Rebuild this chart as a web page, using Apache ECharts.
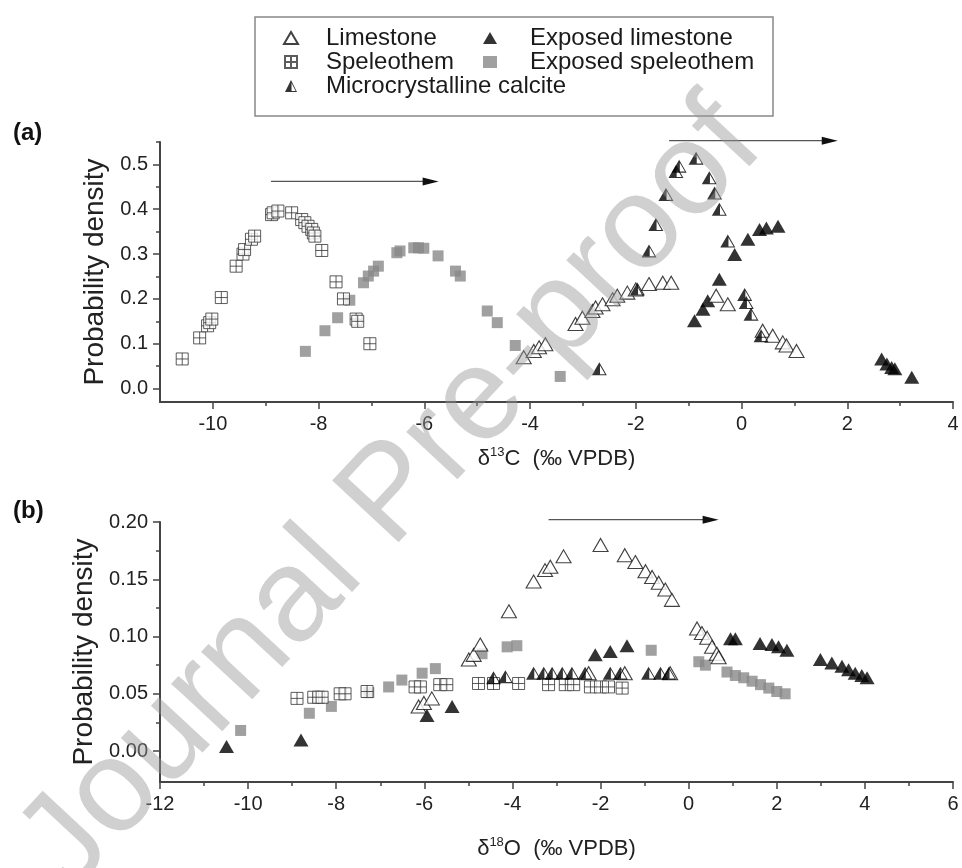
<!DOCTYPE html>
<html>
<head>
<meta charset="utf-8">
<script src="https://cdn.jsdelivr.net/npm/echarts@6/dist/echarts.min.js"></script>
<style>
  html, body { margin: 0; padding: 0; background: #fff; }
  #chart { width: 962px; height: 868px; }
</style>
</head>
<body>
<div id="chart"></div>
<script>
// ---- panel (a): d13C, [x, probability density]
const limestoneA = [[-4.12,0.07],[-3.93,0.084],[-3.83,0.092],[-3.71,0.099],[-3.14,0.144],[-3.01,0.158],[-2.82,0.173],[-2.76,0.181],[-2.63,0.188],[-2.44,0.199],[-2.35,0.207],[-2.16,0.214],[-2.0,0.221],[-1.75,0.233],[-1.49,0.236],[-1.33,0.236],[-0.48,0.207],[-0.26,0.188],[0.40,0.129],[0.59,0.118],[0.78,0.103],[0.85,0.096],[1.04,0.084]];
const exposedLimestoneA = [[-0.89,0.151],[-0.73,0.177],[-0.64,0.196],[-0.42,0.244],[-0.13,0.299],[0.12,0.333],[0.34,0.355],[0.47,0.358],[0.69,0.362],[2.65,0.066],[2.75,0.055],[2.84,0.047],[2.90,0.044],[3.22,0.025]];
const speleothemA = [[-10.58,0.066],[-10.25,0.113],[-10.10,0.14],[-10.06,0.147],[-10.02,0.155],[-9.84,0.203],[-9.56,0.273],[-9.43,0.30],[-9.40,0.31],[-9.27,0.333],[-9.21,0.34],[-8.89,0.388],[-8.86,0.392],[-8.77,0.396],[-8.51,0.392],[-8.32,0.377],[-8.26,0.37],[-8.20,0.362],[-8.13,0.355],[-8.10,0.347],[-8.07,0.34],[-7.94,0.308],[-7.67,0.238],[-7.53,0.20],[-7.29,0.155],[-7.26,0.15],[-7.03,0.10]];
const exposedSpeleothemA = [[-8.25,0.083],[-7.88,0.129],[-7.64,0.158],[-7.41,0.197],[-7.15,0.236],[-7.06,0.251],[-6.96,0.262],[-6.87,0.273],[-6.52,0.303],[-6.46,0.307],[-6.20,0.314],[-6.11,0.314],[-6.01,0.313],[-5.74,0.296],[-5.41,0.262],[-5.32,0.251],[-4.81,0.173],[-4.62,0.147],[-4.28,0.096],[-3.43,0.027]];
const microcrystallineA = [[-2.69,0.044],[-1.97,0.222],[-1.75,0.307],[-1.62,0.366],[-1.43,0.433],[-1.24,0.484],[-1.18,0.496],[-0.86,0.514],[-0.61,0.47],[-0.51,0.436],[-0.42,0.40],[-0.26,0.329],[0.06,0.21],[0.09,0.192],[0.18,0.166],[0.37,0.118]];

// ---- panel (b): d18O
const limestoneB = [[-6.13,0.039],[-6.01,0.042],[-5.83,0.046],[-4.99,0.080],[-4.88,0.084],[-4.73,0.093],[-4.08,0.122],[-3.52,0.148],[-3.26,0.158],[-3.14,0.161],[-2.84,0.170],[-2.00,0.180],[-1.45,0.171],[-1.21,0.165],[-0.98,0.157],[-0.83,0.152],[-0.68,0.147],[-0.53,0.141],[-0.38,0.132],[0.19,0.107],[0.30,0.103],[0.42,0.099],[0.53,0.091],[0.64,0.085],[0.68,0.082],[-2.27,0.068],[-1.45,0.068],[-0.42,0.068]];
const exposedLimestoneB = [[-10.49,0.004],[-8.80,0.0096],[-5.94,0.031],[-5.37,0.039],[-2.12,0.084],[-1.78,0.087],[-1.40,0.092],[0.95,0.098],[1.06,0.098],[1.62,0.094],[1.89,0.093],[2.04,0.091],[2.23,0.088],[2.99,0.080],[3.25,0.077],[3.48,0.074],[3.63,0.071],[3.78,0.068],[3.93,0.066],[4.05,0.064]];
const speleothemB = [[-8.89,0.046],[-8.51,0.047],[-8.40,0.047],[-8.32,0.047],[-7.91,0.050],[-7.80,0.050],[-7.30,0.052],[-6.21,0.056],[-6.09,0.056],[-5.65,0.058],[-5.49,0.058],[-4.77,0.059],[-4.43,0.059],[-3.86,0.059],[-3.18,0.058],[-2.80,0.058],[-2.61,0.058],[-2.23,0.056],[-2.00,0.056],[-1.82,0.056],[-1.51,0.055]];
const exposedSpeleothemB = [[-10.17,0.018],[-8.61,0.033],[-8.11,0.039],[-7.26,0.051],[-6.81,0.056],[-6.51,0.062],[-6.05,0.068],[-5.75,0.072],[-4.69,0.085],[-4.12,0.091],[-3.90,0.092],[-0.85,0.088],[0.23,0.078],[0.38,0.075],[0.87,0.069],[1.06,0.066],[1.25,0.064],[1.44,0.061],[1.63,0.058],[1.82,0.055],[2.00,0.052],[2.19,0.050]];
const microcrystallineB = [[-4.43,0.064],[-4.16,0.065],[-3.52,0.068],[-3.29,0.068],[-3.10,0.068],[-2.87,0.068],[-2.65,0.068],[-2.35,0.068],[-1.78,0.068],[-1.55,0.068],[-0.91,0.068],[-0.64,0.068],[-0.45,0.068]];

// ---- ticks
const xTicksA = [-10, -8, -6, -4, -2, 0, 2, 4];
const xMinorA = [-9, -7, -5, -3, -1, 1, 3];
const yTicksA = [0, 0.1, 0.2, 0.3, 0.4, 0.5];
const yMinorA = [0.05, 0.15, 0.25, 0.35, 0.45, 0.55];
const xTicksB = [-12, -10, -8, -6, -4, -2, 0, 2, 4, 6];
const xMinorB = [-11, -9, -7, -5, -3, -1, 1, 3, 5];
const yTicksB = [0, 0.05, 0.10, 0.15, 0.20];
const yMinorB = [0.025, 0.075, 0.125, 0.175];

// arrows: [xStart, xEnd, y] in data units
const arrowsA = [[-8.9, -5.73, 0.462], [-1.37, 1.82, 0.553]];
const arrowsB = [[-3.18, 0.68, 0.202]];

const FONT = '"Liberation Sans", Arial, sans-serif';
const AX = '#444';

const styles = {
  'Limestone': { symbol: 'triangle', symbolSize: [15, 13], itemStyle: { color: '#fff', borderColor: '#111', borderWidth: 1.1 } },
  'Exposed limestone': { symbol: 'triangle', symbolSize: [15, 13], itemStyle: { color: '#000' } },
  'Speleothem': { symbol: 'path://M0,0L10,0L10,10L0,10Z M5,0L5,10 M0,5L10,5', symbolSize: 12, itemStyle: { color: '#fff', borderColor: '#333', borderWidth: 1 } },
  'Exposed speleothem': { symbol: 'rect', symbolSize: 11, itemStyle: { color: '#888' } },
  'Microcrystalline calcite': { symbol: 'path://M5,0L10,10L0,10Z M5.45,2.4L5.45,9.15L8.85,9.15Z', symbolSize: [15, 13], itemStyle: { color: '#000' } }
};

function mk(name, data, gi) {
  return Object.assign({
    type: 'scatter', name: name, data: data,
    xAxisIndex: gi * 2, yAxisIndex: gi * 2,
    emphasis: { disabled: true }
  }, styles[name]);
}

function xMain(gi, min, max, ticks, nameHtml, gap) {
  return {
    type: 'value', gridIndex: gi, min: min, max: max, position: 'bottom',
    name: nameHtml, nameLocation: 'middle', nameGap: gap,
    nameTextStyle: {
      rich: {
        n: { fontSize: 22, fontFamily: FONT, color: '#222', lineHeight: 26 },
        s: { fontSize: 13, fontFamily: FONT, color: '#222', lineHeight: 13, verticalAlign: 'top' }
      }
    },
    axisLine: { onZero: false, lineStyle: { color: AX, width: 2 } },
    axisTick: { customValues: ticks, length: 7, lineStyle: { color: AX, width: 1.5 } },
    axisLabel: { customValues: ticks, margin: 12, fontSize: 20, fontFamily: FONT, color: '#222' },
    splitLine: { show: false }
  };
}
function xMinor(gi, min, max, ticks) {
  return {
    type: 'value', gridIndex: gi, min: min, max: max, position: 'bottom',
    axisLine: { show: false, onZero: false },
    axisTick: { show: true, customValues: ticks, length: 4, lineStyle: { color: AX, width: 1.5 } },
    axisLabel: { show: false }, splitLine: { show: false }
  };
}
function yMain(gi, min, max, ticks, dec) {
  return {
    type: 'value', gridIndex: gi, min: min, max: max, position: 'left',
    name: 'Probability density', nameLocation: 'middle', nameGap: 50,
    nameTextStyle: { fontSize: 28, fontFamily: FONT, color: '#222' },
    axisLine: { onZero: false, lineStyle: { color: AX, width: 2 } },
    axisTick: { customValues: ticks, length: 7, lineStyle: { color: AX, width: 1.5 } },
    axisLabel: { customValues: ticks, margin: 12, fontSize: 20, fontFamily: FONT, color: '#222',
      formatter: function (v) { return v.toFixed(dec); } },
    splitLine: { show: false }
  };
}
function yMinor(gi, min, max, ticks) {
  return {
    type: 'value', gridIndex: gi, min: min, max: max, position: 'left',
    axisLine: { show: false, onZero: false },
    axisTick: { show: true, customValues: ticks, length: 4, lineStyle: { color: AX, width: 1.5 } },
    axisLabel: { show: false }, splitLine: { show: false }
  };
}

const legendText = function (gap) {
  return {
    fontSize: 24, fontFamily: FONT, color: '#1a1a1a', lineHeight: 24,
    rich: { g: { width: gap, fontSize: 24, lineHeight: 24 } }
  };
};

const chart = echarts.init(document.getElementById('chart'));
chart.setOption({
  animation: false,
  backgroundColor: '#fff',
  grid: [
    { left: 160, top: 142, width: 793, height: 260 },
    { left: 160, top: 522, width: 793, height: 260 }
  ],
  xAxis: [
    xMain(0, -11, 4, xTicksA, '{n|δ}{s|13}{n|C  (‰ VPDB)}', 44),
    xMinor(0, -11, 4, xMinorA),
    xMain(1, -12, 6, xTicksB, '{n|δ}{s|18}{n|O  (‰ VPDB)}', 54),
    xMinor(1, -12, 6, xMinorB)
  ],
  yAxis: [
    yMain(0, -0.03, 0.55, yTicksA, 1),
    yMinor(0, -0.03, 0.55, yMinorA),
    yMain(1, -0.027, 0.20, yTicksB, 2),
    yMinor(1, -0.027, 0.20, yMinorB)
  ],
  legend: [
    {
      data: ['Limestone', 'Speleothem', 'Microcrystalline calcite'],
      orient: 'vertical', left: 283, top: 26, itemGap: 0, padding: 0,
      itemWidth: 14, itemHeight: 12, selectedMode: false,
      formatter: '{g| }{name}', textStyle: legendText(23)
    },
    {
      data: ['Exposed limestone', 'Exposed speleothem'],
      orient: 'vertical', left: 483, top: 26, itemGap: 0, padding: 0,
      itemWidth: 14, itemHeight: 12, selectedMode: false,
      formatter: '{g| }{name}', textStyle: legendText(28)
    }
  ],
  series: [
    mk('Exposed speleothem', exposedSpeleothemA, 0),
    mk('Speleothem', speleothemA, 0),
    mk('Exposed limestone', exposedLimestoneA, 0),
    mk('Limestone', limestoneA, 0),
    mk('Microcrystalline calcite', microcrystallineA, 0),
    mk('Exposed speleothem', exposedSpeleothemB, 1),
    mk('Speleothem', speleothemB, 1),
    mk('Exposed limestone', exposedLimestoneB, 1),
    mk('Limestone', limestoneB, 1),
    mk('Microcrystalline calcite', microcrystallineB, 1)
  ]
});

// arrows and annotations
const gfx = [
  { type: 'rect', shape: { x: 255, y: 17, width: 518, height: 99 }, style: { fill: 'none', stroke: '#888', lineWidth: 1.5 } },
  { type: 'text', x: 13, y: 121, style: { text: '(a)', font: 'bold 24px "Liberation Sans", Arial', fill: '#111' } },
  { type: 'text', x: 13, y: 499, style: { text: '(b)', font: 'bold 24px "Liberation Sans", Arial', fill: '#111' } }
];
function addArrow(gi, a) {
  const p0 = chart.convertToPixel({ gridIndex: gi }, [a[0], a[2]]);
  const p1 = chart.convertToPixel({ gridIndex: gi }, [a[1], a[2]]);
  gfx.push({ type: 'line', shape: { x1: p0[0], y1: p0[1], x2: p1[0] - 10, y2: p1[1] }, style: { stroke: '#555', lineWidth: 1.3 } });
  gfx.push({ type: 'polygon', shape: { points: [[p1[0], p1[1]], [p1[0] - 16, p1[1] - 4], [p1[0] - 16, p1[1] + 4]] }, style: { fill: '#111' } });
}
arrowsA.forEach(function (a) { addArrow(0, a); });
arrowsB.forEach(function (a) { addArrow(1, a); });

// watermark
gfx.push({
  type: 'text', x: 392, y: 496, rotation: 47 * Math.PI / 180, silent: true, z: 100,
  style: { text: 'Journal Pre-proof', font: '132px "Liberation Sans", Arial', fill: 'rgba(150,150,150,0.45)',
    align: 'center', verticalAlign: 'middle', textAlign: 'center', textVerticalAlign: 'middle' }
});

chart.setOption({ graphic: gfx });
</script>
</body>
</html>
